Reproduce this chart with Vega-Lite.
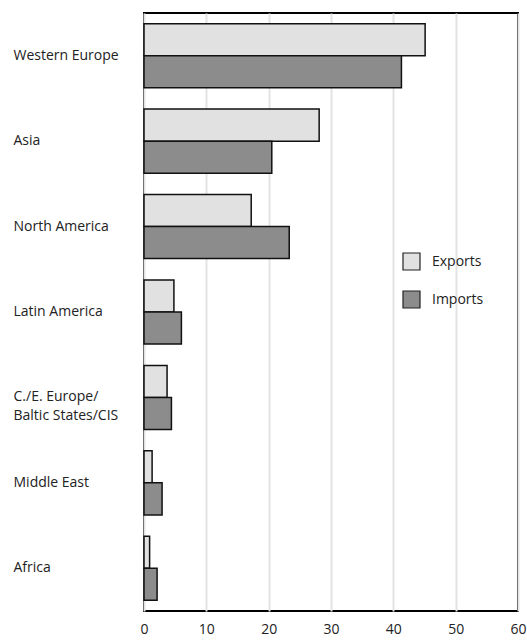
{
  "$schema": "https://vega.github.io/schema/vega-lite/v6.json",
  "width": 374,
  "height": 598,
  "autosize": "none",
  "padding": {"left": 144, "top": 13, "right": 9, "bottom": 29},
  "background": "white",
  "config": {
    "font": "Open Sans",
    "view": {"stroke": "black", "strokeWidth": 2},
    "axis": {"labelFont": "Open Sans", "labelColor": "#222222"},
    "legend": {"labelFont": "Open Sans"}
  },
  "data": {
    "values": [
      {"region": "Western Europe", "flow": "Exports", "value": 45.1},
      {"region": "Western Europe", "flow": "Imports", "value": 41.3},
      {"region": "Asia", "flow": "Exports", "value": 28.1},
      {"region": "Asia", "flow": "Imports", "value": 20.5},
      {"region": "North America", "flow": "Exports", "value": 17.2},
      {"region": "North America", "flow": "Imports", "value": 23.3},
      {"region": "Latin America", "flow": "Exports", "value": 4.8},
      {"region": "Latin America", "flow": "Imports", "value": 6.0},
      {"region": "C./E. Europe/Baltic States/CIS", "flow": "Exports", "value": 3.7},
      {"region": "C./E. Europe/Baltic States/CIS", "flow": "Imports", "value": 4.4},
      {"region": "Middle East", "flow": "Exports", "value": 1.3},
      {"region": "Middle East", "flow": "Imports", "value": 2.9},
      {"region": "Africa", "flow": "Exports", "value": 0.9},
      {"region": "Africa", "flow": "Imports", "value": 2.1}
    ]
  },
  "mark": {"type": "bar", "stroke": "#111111", "strokeWidth": 1.5},
  "encoding": {
    "y": {
      "field": "region",
      "type": "nominal",
      "sort": null,
      "scale": {"paddingInner": 0.25, "paddingOuter": 0.125},
      "axis": {
        "title": null,
        "ticks": false,
        "domain": false,
        "labelAlign": "left",
        "labelPadding": 131,
        "labelFontSize": 14,
        "labelLimit": 200,
        "labelLineHeight": 19,
        "labelExpr": "datum.label == 'C./E. Europe/Baltic States/CIS' ? ['C./E. Europe/', 'Baltic States/CIS'] : datum.label"
      }
    },
    "yOffset": {"field": "flow", "type": "nominal", "scale": {"paddingInner": 0, "paddingOuter": 0}},
    "x": {
      "field": "value",
      "type": "quantitative",
      "scale": {"domain": [0, 60], "nice": false},
      "axis": {
        "title": null,
        "values": [0, 10, 20, 30, 40, 50, 60],
        "ticks": false,
        "domain": false,
        "labelFlush": false,
        "labelFontSize": 14,
        "labelPadding": 11,
        "grid": true,
        "gridColor": "#e3e3e3",
        "gridWidth": 2
      }
    },
    "fill": {
      "field": "flow",
      "type": "nominal",
      "scale": {"domain": ["Exports", "Imports"], "range": ["#e1e1e1", "#8c8c8c"]},
      "legend": {
        "title": null,
        "orient": "none",
        "legendX": 258,
        "legendY": 239,
        "symbolType": "square",
        "symbolSize": 289,
        "symbolStrokeColor": "#222222",
        "symbolStrokeWidth": 1.2,
        "rowPadding": 15,
        "labelOffset": 11,
        "labelFontSize": 14,
        "labelColor": "#222222"
      }
    }
  }
}
